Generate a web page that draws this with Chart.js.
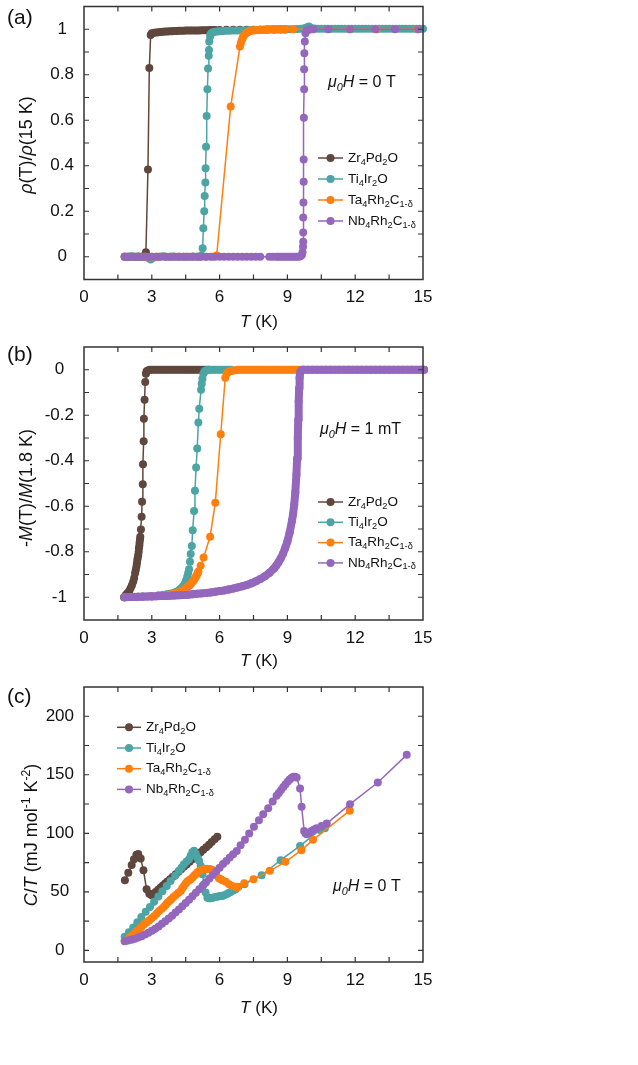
<!DOCTYPE html>
<html><head><meta charset="utf-8">
<script src="https://cdn.jsdelivr.net/npm/chart.js@4/dist/chart.umd.min.js"></script>
<style>
html,body{margin:0;padding:0;background:#fff;}
#wrap{position:relative;width:638px;height:1065px;overflow:hidden;background:#fff;}
.pan{position:absolute;left:0;width:638px;}
canvas{display:block;}
</style></head><body>
<div id="wrap">
<div class="pan" style="top:0px;height:330px"><canvas id="ca" width="638" height="330"></canvas></div>
<div class="pan" style="top:330px;height:340px"><canvas id="cb" width="638" height="340"></canvas></div>
<div class="pan" style="top:670px;height:395px"><canvas id="cc" width="638" height="395"></canvas></div>
</div>
<script>
// ---------- labels ----------
const SERIES_LABELS = ['Zr_{4}Pd_{2}O', 'Ti_{4}Ir_{2}O', 'Ta_{4}Rh_{2}C_{1-δ}', 'Nb_{4}Rh_{2}C_{1-δ}'];
const X_TICK_LABELS = [0, 3, 6, 9, 12, 15];
const Y_TICK_LABELS_A = [0, 0.2, 0.4, 0.6, 0.8, 1];
const Y_TICK_LABELS_B = [-1, -0.8, -0.6, -0.4, -0.2, 0];
const Y_TICK_LABELS_C = [0, 50, 100, 150, 200];

// ---------- panel (a): rho(T)/rho(15 K), [T, value] ----------
const A_ZR = [[1.8,0],[1.9,0],[2.0,0],[2.1,0],[2.2,0],[2.3,0],[2.4,0],[2.5,0],[2.6,0],[2.7,0],
 [2.74,0.02],[2.83,0.384],[2.89,0.83],[2.95,0.975],
 [3.0,0.982],[3.1,0.985],[3.2,0.986],[3.3,0.987],[3.4,0.988],[3.5,0.989],[3.6,0.99],[3.7,0.99],[3.8,0.991],[3.9,0.991],
 [4.0,0.992],[4.1,0.992],[4.2,0.993],[4.3,0.993],[4.4,0.993],[4.5,0.994],[4.6,0.994],[4.7,0.994],[4.8,0.995],[4.9,0.995],
 [5.0,0.995],[5.1,0.995],[5.2,0.996],[5.3,0.996],[5.4,0.996],[5.5,0.996],[5.6,0.997],[5.7,0.997],[5.8,0.997],
 [6.0,0.997],[6.3,0.998],[6.6,0.998],[6.9,0.998],[7.2,0.998],[7.5,0.998],[7.8,0.998],[8.1,0.999],[8.4,0.999],[8.7,0.999],[8.9,0.999]];
const A_TI = [[1.8,0],[1.95,0],[2.1,0.002],[2.25,0],[2.4,0.001],[2.55,0],[2.7,0],[2.85,-0.005],[2.95,-0.012],[3.05,-0.004],
 [3.2,0],[3.35,0],[3.5,0.002],[3.65,0],[3.8,0],[3.95,0.001],[4.1,0],[4.25,0],[4.4,0],[4.55,0],[4.7,0],[4.85,0.001],[5.0,0],[5.1,0],[5.2,0.005],
 [5.25,0.037],[5.28,0.125],[5.32,0.2],[5.34,0.267],[5.37,0.326],[5.38,0.389],[5.40,0.484],[5.43,0.619],[5.46,0.736],[5.49,0.828],
 [5.52,0.883],[5.53,0.909],[5.54,0.946],[5.58,0.968],[5.6,0.978],[5.65,0.984],[5.7,0.987],
 [5.8,0.989],[5.9,0.99],[6.0,0.991],[6.15,0.992],[6.3,0.993],[6.45,0.993],[6.6,0.994],[6.75,0.994],[6.9,0.995],[7.05,0.995],
 [7.2,0.996],[7.35,0.996],[7.5,0.997],[7.65,0.997],[7.8,0.998],[7.95,0.998],[8.1,0.998],[8.25,0.999],[8.4,0.999],[8.55,0.999],
 [8.7,1.0],[8.85,1.0],[9.0,1.0],[9.15,1.0],[9.3,1.0],[9.45,1.001],[9.6,1.002],[9.75,1.004],[9.85,1.008],[9.95,1.012],[10.05,1.006],
 [10.2,1.003],[10.35,1.002],[10.5,1.002],[10.65,1.002],[10.8,1.002],[10.95,1.002],[11.1,1.002],[11.25,1.002],[11.4,1.002],[11.55,1.002],
 [11.7,1.002],[11.85,1.002],[12.0,1.002],[12.15,1.002],[12.3,1.002],[12.45,1.002],[12.6,1.002],[12.75,1.002],[12.9,1.002],[13.05,1.002],
 [13.2,1.002],[13.35,1.002],[13.5,1.002],[13.65,1.002],[13.8,1.002],[13.95,1.002],[14.1,1.002],[14.25,1.002],[14.4,1.002],[14.55,1.002],
 [14.7,1.002],[14.85,1.002],[15.0,1.002]];
const A_TA = [[1.8,0],[2.1,0],[2.4,0],[2.7,0],[3.0,0],[3.3,0],[3.6,0],[3.9,0],[4.2,0],[4.5,0],[4.8,0],[5.1,0],[5.4,0],[5.7,0],
 [5.87,0.005],[6.49,0.66],[6.9,0.924],[6.94,0.94],[6.98,0.952],[7.02,0.962],[7.06,0.97],[7.1,0.976],[7.15,0.981],[7.2,0.985],
 [7.25,0.988],[7.3,0.99],[7.36,0.992],[7.42,0.994],[7.5,0.995],[7.6,0.996],[7.7,0.997],[7.8,0.998],[7.9,0.998],[8.0,0.999],
 [8.1,0.999],[8.2,0.999],[8.3,1.0],[8.4,1.0],[8.5,1.0],[8.6,1.0],[8.7,1.0],[8.8,1.0],[8.9,1.0],
 [9.25,1.0],[10.0,1.0],[11.75,1.0],[12.95,1.0],[14.75,1.0]];
const A_NB = [[1.8,0],[2.0,0],[2.2,0],[2.4,0],[2.6,0],[2.8,0],[3.0,0],[3.2,0],[3.4,0],[3.6,0],[3.8,0],[4.0,0],[4.2,0],[4.4,0],
 [4.6,0],[4.8,0],[5.0,0],[5.2,0],[5.4,0],[5.6,0],[5.8,0],[6.0,0],[6.2,0],[6.4,0],[6.6,0],[6.8,0],[7.0,0],[7.2,0],[7.4,0],[7.6,0],[7.8,0],
 [8.2,0],[8.35,0],[8.5,0],[8.6,0],[8.7,0],[8.8,0],[8.9,0],[9.0,0],[9.1,0],[9.2,0],[9.3,0],[9.4,0],[9.5,0],[9.58,0.002],[9.64,0.008],
 [9.67,0.02],[9.69,0.044],[9.70,0.066],[9.70,0.107],[9.70,0.173],[9.71,0.239],[9.72,0.33],[9.72,0.428],[9.73,0.611],[9.74,0.736],
 [9.74,0.824],[9.75,0.894],[9.77,0.946],[9.8,0.982],[9.85,0.994],[9.92,0.998],[10.0,1.0],[10.07,1.0],[10.15,1.0],
 [10.81,1.0],[11.77,1.0],[12.9,1.0],[13.76,1.0],[14.79,1.0]];

// ---------- panel (b): -M(T)/M(1.8 K), [T, value] ----------
const B_ZR = [[1.77,-1.0],[1.85,-0.99],[1.92,-0.982],[2.0,-0.972],[2.06,-0.96],[2.12,-0.947],[2.18,-0.931],[2.22,-0.915],
 [2.26,-0.895],[2.29,-0.88],[2.32,-0.865],[2.34,-0.85],[2.36,-0.836],[2.38,-0.825],[2.40,-0.814],[2.42,-0.8],[2.43,-0.785],
 [2.45,-0.772],[2.46,-0.759],[2.48,-0.745],[2.49,-0.734],[2.52,-0.702],[2.55,-0.646],[2.57,-0.58],[2.60,-0.503],[2.61,-0.415],
 [2.64,-0.314],[2.65,-0.215],[2.68,-0.132],[2.71,-0.054],[2.74,-0.018],[2.77,-0.007],[2.83,-0.003],
 [2.9,0],[3.0,0],[3.1,0],[3.2,0],[3.3,0],[3.4,0],[3.5,0],[3.6,0],[3.7,0],[3.8,0],[3.9,0],[4.0,0],[4.1,0],[4.2,0],[4.3,0],
 [4.4,0],[4.5,0],[4.6,0],[4.7,0],[4.8,0],[4.9,0],[5.0,0],[5.1,0],[5.2,0],[5.3,0],[5.4,0],[5.5,0]];
const B_TI = [[1.8,-1.0],[2.2,-0.998],[2.6,-0.996],[2.95,-0.994],[3.3,-0.991],[3.5,-0.989],[3.69,-0.986],[3.8,-0.985],[3.9,-0.983],
 [3.97,-0.981],[4.03,-0.979],[4.08,-0.977],[4.13,-0.975],[4.18,-0.972],[4.22,-0.968],[4.27,-0.964],[4.32,-0.96],[4.37,-0.954],
 [4.42,-0.948],[4.47,-0.939],[4.52,-0.925],[4.57,-0.909],[4.61,-0.893],[4.65,-0.877],[4.69,-0.844],[4.72,-0.81],[4.77,-0.775],
 [4.81,-0.705],[4.87,-0.621],[4.91,-0.532],[4.96,-0.43],[5.01,-0.346],[5.06,-0.232],[5.10,-0.171],[5.18,-0.088],[5.21,-0.061],
 [5.24,-0.04],[5.28,-0.018],[5.33,-0.008],[5.38,-0.004],[5.43,-0.002],[5.5,0],[5.6,0],[5.7,0],[5.8,0],[5.9,0],[6.0,0],[6.1,0],
 [6.2,0],[6.3,0],[6.4,0],[6.5,0]];
const B_TA = [[1.8,-1.0],[2.4,-0.998],[3.0,-0.995],[3.5,-0.991],[3.75,-0.988],[3.95,-0.985],[4.08,-0.981],[4.2,-0.977],[4.3,-0.972],
 [4.39,-0.968],[4.47,-0.962],[4.55,-0.957],[4.62,-0.952],[4.69,-0.946],[4.75,-0.939],[4.8,-0.932],[4.86,-0.925],[4.91,-0.917],
 [4.95,-0.91],[4.99,-0.903],[5.03,-0.895],[5.06,-0.887],[5.16,-0.861],[5.29,-0.825],[5.58,-0.734],[5.81,-0.585],[6.05,-0.284],
 [6.25,-0.035],[6.32,-0.016],[6.38,-0.01],[6.45,-0.007],[6.52,-0.005],[6.6,-0.003],[6.7,-0.002],[6.8,0],[6.9,0],[7.0,0],[7.1,0],
 [7.2,0],[7.3,0],[7.4,0],[7.5,0],[7.6,0],[7.7,0],[7.8,0],[7.9,0],[8.0,0],[8.1,0],[8.2,0],[8.3,0],[8.4,0],[8.5,0],[8.6,0],[8.7,0],
 [8.8,0],[8.9,0],[9.0,0],[9.1,0],[9.2,0],[9.3,0],[9.4,0],[9.5,0],[9.6,0],[9.7,0]];
const B_NB = [[1.8,-1.0],[2.0,-0.999],[2.2,-0.999],[2.4,-0.998],[2.6,-0.998],[2.8,-0.997],[3.0,-0.997],[3.2,-0.996],[3.4,-0.995],
 [3.6,-0.994],[3.8,-0.993],[4.0,-0.992],[4.2,-0.991],[4.4,-0.99],[4.6,-0.989],[4.8,-0.987],[5.0,-0.985],[5.2,-0.983],[5.4,-0.981],
 [5.6,-0.979],[5.8,-0.976],[6.0,-0.973],[6.2,-0.97],[6.4,-0.966],[6.6,-0.962],[6.8,-0.957],[7.0,-0.952],[7.2,-0.946],[7.4,-0.939],
 [7.6,-0.93],[7.8,-0.92],[8.0,-0.908],[8.2,-0.893],[8.4,-0.874],[8.5,-0.862],[8.6,-0.847],[8.7,-0.83],[8.8,-0.81],[8.9,-0.785],
 [9.0,-0.755],[9.1,-0.715],[9.2,-0.665],[9.25,-0.635],[9.3,-0.595],[9.35,-0.54],[9.4,-0.46],[9.43,-0.39],[9.46,-0.3],[9.48,-0.22],
 [9.5,-0.14],[9.52,-0.08],[9.54,-0.035],[9.57,-0.01],[9.62,-0.002],[9.7,0],[9.9,0],[10.1,0],[10.3,0],[10.5,0],[10.7,0],[10.9,0],
 [11.1,0],[11.3,0],[11.5,0],[11.7,0],[11.9,0],[12.1,0],[12.3,0],[12.5,0],[12.7,0],[12.9,0],[13.1,0],[13.3,0],[13.5,0],[13.7,0],
 [13.9,0],[14.1,0],[14.3,0],[14.5,0],[14.7,0],[14.9,0],[15.05,0]];

// ---------- panel (c): C/T (mJ mol^-1 K^-2), [T, value] ----------
const C_ZR = [[1.81,59.9],[1.96,66.2],[2.11,72.8],[2.21,77.7],[2.32,81.7],[2.40,82.2],[2.51,78.5],[2.63,68.5],[2.77,52.1],
 [2.89,48.4],[2.99,47.0],[3.08,48.3],[3.17,49.9],[3.28,51.8],[3.39,53.6],[3.49,55.3],[3.59,57.0],[3.69,58.7],[3.81,60.8],
 [3.93,62.9],[4.06,65.0],[4.18,67.1],[4.30,69.2],[4.42,71.3],[4.54,73.4],[4.67,75.6],[4.79,77.7],[4.91,79.7],[5.04,81.7],
 [5.16,83.7],[5.28,85.9],[5.41,88.1],[5.53,90.3],[5.65,92.6],[5.78,94.9],[5.90,97.1]];
const C_TI = [[1.8,11.5],[1.99,15.5],[2.18,19.5],[2.36,24.0],[2.54,28.5],[2.73,33.0],[2.92,37.0],[3.10,41.5],[3.29,46.0],
 [3.47,50.5],[3.66,55.0],[3.83,59.3],[4.03,63.6],[4.20,67.9],[4.32,70.8],[4.42,73.6],[4.54,75.9],[4.65,77.7],[4.72,80.8],
 [4.79,83.7],[4.87,85.0],[4.94,82.8],[5.01,79.4],[5.09,76.5],[5.16,72.2],[5.24,65.0],[5.31,56.4],[5.38,49.3],[5.46,45.0],
 [5.53,44.5],[5.60,44.4],[5.70,45.0],[5.80,45.6],[5.90,45.8],[5.97,46.1],[6.05,46.3],[6.12,46.4],[6.20,47.0],[6.31,47.9],
 [6.40,49.0],[6.49,49.9],[6.60,51.0],[6.71,52.1],[6.83,54.2],[7.10,56.5],[7.86,64.1],[8.70,77.0],[9.56,89.2],[10.44,102.9],[10.66,104.3]];
const C_TA = [[1.8,8.0],[1.99,10.6],[2.10,12.2],[2.21,14.0],[2.32,15.8],[2.43,17.8],[2.54,20.0],[2.65,22.1],[2.76,23.8],
 [2.88,25.5],[2.99,27.3],[3.10,29.2],[3.21,31.3],[3.32,33.5],[3.43,35.3],[3.54,37.2],[3.62,39.0],[3.69,40.7],[3.78,42.2],
 [3.86,43.6],[3.96,45.5],[4.06,47.3],[4.17,49.0],[4.28,50.7],[4.35,53.0],[4.42,55.0],[4.50,57.0],[4.57,58.7],[4.65,59.8],
 [4.72,60.7],[4.80,62.2],[4.87,63.6],[4.94,65.0],[5.01,66.5],[5.09,67.5],[5.16,68.5],[5.24,69.0],[5.31,69.3],[5.39,69.5],
 [5.46,69.3],[5.53,69.4],[5.60,69.3],[5.72,68.5],[5.83,65.0],[5.97,61.6],[6.05,60.8],[6.12,59.9],[6.27,58.5],[6.42,56.5],
 [6.56,55.0],[6.71,54.2],[6.79,53.8],[7.09,57.3],[7.50,60.8],[8.22,67.9],[8.91,75.6],[9.62,85.6],[10.13,94.4],[11.76,119.3]];
const C_NB = [[1.8,7.7],[1.95,8.4],[2.1,9.1],[2.25,9.9],[2.4,10.9],[2.55,12.1],[2.7,13.4],[2.85,14.9],[3.0,16.6],[3.15,18.4],
 [3.3,20.4],[3.45,22.6],[3.6,24.8],[3.75,27.2],[3.9,29.6],[4.05,32.2],[4.2,34.8],[4.35,37.6],[4.5,40.4],[4.65,43.3],[4.8,46.2],
 [4.95,49.2],[5.1,52.2],[5.25,55.2],[5.4,58.2],[5.55,61.3],[5.7,64.4],[5.85,67.5],[6.0,70.6],[6.15,73.7],[6.3,76.4],[6.45,79.2],
 [6.6,82.0],[6.76,84.9],[6.93,89.8],[7.12,94.4],[7.31,99.8],[7.52,105.5],[7.74,111.2],[7.93,116.3],[8.15,121.4],[8.35,127.1],
 [8.52,132.0],[8.62,134.5],[8.72,137.0],[8.82,139.5],[8.92,142.0],[9.02,144.3],[9.1,146.0],[9.18,147.3],[9.26,148.2],[9.34,148.3],
 [9.41,147.7],[9.56,138.3],[9.63,122.6],[9.74,102.0],[9.8,100.0],[9.85,99.2],[9.92,99.8],[10.0,100.8],[10.07,102.0],[10.18,103.2],
 [10.29,104.3],[10.51,106.3],[10.74,108.3],[11.77,124.9],[13.0,143.4],[14.28,167.0]];

// ---------- styling ----------
const FONT = "'Liberation Sans', Arial, Helvetica, sans-serif";
const COLORS = ['#5f473e', '#4ca4a4', '#ff7f0e', '#9467bd'];
Chart.defaults.font.family = FONT;

function parseRich(s) {
  const segs = []; let it = false, i = 0, buf = '';
  const flush = () => { if (buf) { segs.push({t: buf, it}); buf = ''; } };
  while (i < s.length) {
    const c = s[i];
    if (c === '*') { flush(); it = !it; i++; }
    else if ((c === '_' || c === '^') && s[i + 1] === '{') {
      flush(); const j = s.indexOf('}', i);
      segs.push({t: s.slice(i + 2, j), it, sub: c === '_', sup: c === '^'}); i = j + 1;
    } else { buf += c; i++; }
  }
  flush(); return segs;
}
function segFont(seg, size) {
  const s = (seg.sub || seg.sup) ? size * 0.68 : size;
  return (seg.it ? 'italic ' : '') + s.toFixed(1) + 'px ' + FONT;
}
function drawRich(ctx, text, x, y, size, align, rotate, color) {
  const segs = parseRich(text);
  let w = 0;
  const ws = segs.map(sg => { ctx.font = segFont(sg, size); const m = ctx.measureText(sg.t).width; w += m; return m; });
  ctx.save();
  ctx.translate(x, y);
  if (rotate) ctx.rotate(rotate);
  let cx = align === 'center' ? -w / 2 : (align === 'right' ? -w : 0);
  ctx.fillStyle = color || '#111';
  ctx.textBaseline = 'middle';
  segs.forEach((sg, i) => {
    ctx.font = segFont(sg, size);
    const dy = sg.sub ? size * 0.3 : (sg.sup ? -size * 0.32 : 0);
    ctx.fillText(sg.t, cx, dy);
    cx += ws[i];
  });
  ctx.restore();
}

const frameTicks = {
  id: 'frameTicks',
  afterDatasetsDraw(chart, args, opts) {
    const {ctx, chartArea: a} = chart;
    const xs = chart.scales.x, ys = chart.scales.y;
    const L = 5;
    ctx.save();
    ctx.strokeStyle = '#333'; ctx.lineWidth = 1.2;
    ctx.beginPath();
    xs.ticks.forEach(t => {
      const v = t.value;
      if (v <= xs.min + 1e-9 || v >= xs.max - 1e-9) return;
      const p = xs.getPixelForValue(v);
      ctx.moveTo(p, a.bottom); ctx.lineTo(p, a.bottom - L);
      ctx.moveTo(p, a.top); ctx.lineTo(p, a.top + L);
    });
    ys.ticks.forEach(t => {
      const v = t.value;
      if (v <= ys.min + 1e-9 || v >= ys.max - 1e-9) return;
      if (opts.yMark && Math.abs(v / opts.yMark - Math.round(v / opts.yMark)) > 1e-6) return;
      const p = ys.getPixelForValue(v);
      ctx.moveTo(a.left, p); ctx.lineTo(a.left + L, p);
      ctx.moveTo(a.right, p); ctx.lineTo(a.right - L, p);
    });
    ctx.stroke();
    ctx.lineWidth = 1.5;
    ctx.strokeRect(a.left, a.top, a.right - a.left, a.bottom - a.top);
    ctx.restore();
  }
};

const richText = {
  id: 'richText',
  afterDraw(chart, args, opts) {
    const ctx = chart.ctx;
    (opts.items || []).forEach(it => drawRich(ctx, it.t, it.x, it.y, it.size, it.align, it.rotate, it.color));
    const lg = opts.legend;
    if (lg) {
      chart.data.datasets.forEach((d, i) => {
        const y = lg.y0 + i * lg.dy;
        ctx.save();
        ctx.strokeStyle = d.pointBackgroundColor; ctx.fillStyle = d.pointBackgroundColor; ctx.lineWidth = 1.5;
        ctx.beginPath(); ctx.moveTo(lg.x1, y); ctx.lineTo(lg.x2, y); ctx.stroke();
        ctx.beginPath(); ctx.arc((lg.x1 + lg.x2) / 2, y, 4, 0, Math.PI * 2); ctx.fill();
        ctx.restore();
        drawRich(ctx, d.label, lg.xt, y, lg.size, 'left', 0, '#111');
      });
    }
  }
};

function ds(i, pts, extra) {
  return Object.assign({
    label: SERIES_LABELS[i],
    data: pts.map(p => ({x: p[0], y: p[1]})),
    showLine: true,
    borderColor: COLORS[i], backgroundColor: COLORS[i],
    pointBackgroundColor: COLORS[i], pointBorderColor: COLORS[i], pointBorderWidth: 0,
    pointRadius: 4, pointHoverRadius: 4, borderWidth: 1.5,
    order: 4 - i, clip: false, tension: 0,
    borderJoinStyle: 'round', borderCapStyle: 'round'
  }, extra || {});
}

function build(id, cfg) {
  const x = {
    type: 'linear', min: 0, max: 15,
    afterFit(s) { s.height = cfg.xh; s.paddingLeft = 0; s.paddingRight = 0; },
    grid: {display: false, drawTicks: false}, border: {display: false},
    ticks: {
      stepSize: 1.5, autoSkip: false, maxRotation: 0, minRotation: 0, padding: 8,
      color: '#111', font: {size: 17, family: FONT},
      callback(v) { const m = X_TICK_LABELS.find(t => Math.abs(t - v) < 1e-6); return m === undefined ? '' : String(m); }
    }
  };
  const y = {
    type: 'linear', min: cfg.ymin, max: cfg.ymax,
    afterFit(s) { s.width = 84; s.paddingTop = 0; s.paddingBottom = 0; },
    grid: {display: false, drawTicks: false}, border: {display: false},
    ticks: {
      stepSize: cfg.ystep, autoSkip: false, includeBounds: cfg.includeBounds, crossAlign: 'center', padding: 10,
      color: '#111', font: {size: 17, family: FONT},
      callback(v) { const m = cfg.ylabels.find(t => Math.abs(t - v) < 1e-6); return m === undefined ? '' : String(m); }
    }
  };
  return new Chart(document.getElementById(id), {
    type: 'scatter',
    data: {datasets: cfg.datasets},
    options: {
      responsive: false, maintainAspectRatio: false, animation: false, devicePixelRatio: 1, events: [],
      layout: {padding: {left: 0, right: 215, top: cfg.top, bottom: 0}},
      plugins: {
        legend: {display: false}, tooltip: {enabled: false},
        frameTicks: {yMark: cfg.yMark},
        richText: {items: cfg.items, legend: cfg.legend}
      },
      scales: {x, y}
    },
    plugins: [frameTicks, richText]
  });
}

const ROT = -Math.PI / 2;

build('ca', {
  top: 6.5, xh: 50.5, ymin: -0.1, ymax: 1.1, ystep: 0.1, includeBounds: true, ylabels: Y_TICK_LABELS_A, yMark: null,
  datasets: [ds(0, A_ZR), ds(1, A_TI), ds(2, A_TA), ds(3, A_NB)],
  items: [
    {t: '(a)', x: 7, y: 18, size: 21, align: 'left'},
    {t: '*ρ*(T)/*ρ*(15 K)', x: 27, y: 145, size: 18, align: 'center', rotate: ROT},
    {t: '*T* (K)', x: 259, y: 322, size: 17, align: 'center'},
    {t: '*μ_{0}H* = 0 T', x: 328, y: 83, size: 16, align: 'left'}
  ],
  legend: {x1: 318, x2: 343, xt: 348, y0: 158, dy: 21, size: 13.5}
});

build('cb', {
  top: 17, xh: 50, ymin: -1.1, ymax: 0.1, ystep: 0.1, includeBounds: true, ylabels: Y_TICK_LABELS_B, yMark: null,
  datasets: [ds(0, B_ZR), ds(1, B_TI), ds(2, B_TA),
    ds(3, B_NB, {borderWidth: 8, pointRadius: 4})],
  items: [
    {t: '(b)', x: 7, y: 25, size: 21, align: 'left'},
    {t: '-*M*(T)/*M*(1.8 K)', x: 27, y: 158, size: 18, align: 'center', rotate: ROT},
    {t: '*T* (K)', x: 259, y: 331, size: 17, align: 'center'},
    {t: '*μ_{0}H* = 1 mT', x: 320, y: 100, size: 16, align: 'left'}
  ],
  legend: {x1: 318, x2: 343, xt: 348, y0: 172, dy: 20.3, size: 13.5}
});

build('cc', {
  top: 17, xh: 103, ymin: -10, ymax: 225, ystep: 25, includeBounds: false, ylabels: Y_TICK_LABELS_C, yMark: 25,
  datasets: [ds(0, C_ZR), ds(1, C_TI), ds(2, C_TA), ds(3, C_NB)],
  items: [
    {t: '(c)', x: 7, y: 27, size: 21, align: 'left'},
    {t: '*C*/*T* (mJ mol^{-1} K^{-2})', x: 32, y: 165, size: 18, align: 'center', rotate: ROT},
    {t: '*T* (K)', x: 259, y: 338, size: 17, align: 'center'},
    {t: '*μ_{0}H* = 0 T', x: 333, y: 217, size: 16, align: 'left'}
  ],
  legend: {x1: 117, x2: 141, xt: 146, y0: 57.3, dy: 20.7, size: 13.5}
});
</script>
</body></html>
